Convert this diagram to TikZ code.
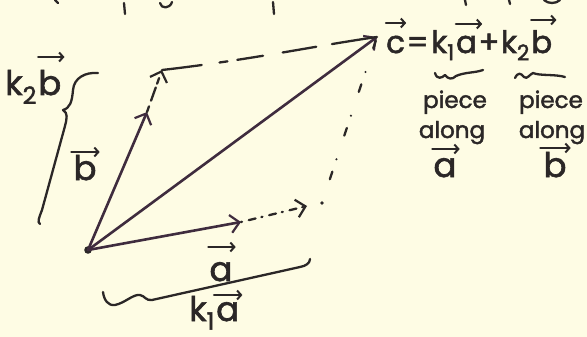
\documentclass[tikz,border=0pt]{standalone}
\usepackage{fontspec}
\setmainfont{Poppins}
\newfontfamily\hw{Poppins}[FakeBold=1.8]
\usetikzlibrary{arrows.meta,calc}
\definecolor{paper}{HTML}{FEFCE4}
\definecolor{ink}{HTML}{2B2727}
\definecolor{vink}{HTML}{3F2C3E}
% arrow over a letter node: node, y (px from top), left and right extension
\newcommand\vecarr[4]{\draw[vecacc] let \p1=(#1.west),\p2=(#1.east) in (\x1+#3,-#2pt) -- (\x2+#4,-#2pt);}
\begin{document}
\begin{tikzpicture}[x=1pt,y=-1pt,
  tip/.style={-{Straight Barb[length=9pt,width=18pt,line width=2.2pt]}},
  vecline/.style={draw=vink,line width=2.6pt,line cap=round,tip},
  vecacc/.style={draw=ink,line width=2.2pt,line cap=round,-{Straight Barb[length=4pt,width=9pt,line width=2pt]}},
  dashline/.style={draw=ink,line width=2.3pt,line cap=round},
  hand/.style={draw=ink,line width=2.3pt,line cap=round,line join=round},
  eqf/.style={inner sep=0pt,text=ink,font=\hw\fontsize{31}{33}\selectfont},
  lbl/.style={inner sep=0pt,text=ink,font=\hw\fontsize{34}{36}\selectfont},
  small/.style={inner sep=0pt,text=ink,font=\hw\fontsize{23}{25}\selectfont}]
\useasboundingbox (0,0) rectangle (587,337);
\fill[paper] (0,0) rectangle (587,337);

% fragments of the cut-off line above
\draw[hand] (55,0) -- (58,3);
\draw[hand] (124,3) -- (125,14);
\draw[hand] (160,3) .. controls (161,9) and (170,9) .. (172,2);
\draw[hand] (273,2) -- (274,14);
\draw[hand] (465,0) -- (466,5);
\draw[hand] (509,0) -- (510,4);
\draw[hand] (544,0) .. controls (548,4) and (556,4) .. (560,0);

% points
\coordinate (O) at (88,250);
\coordinate (bend) at (147,112);
\coordinate (kb) at (162,70);
\coordinate (aend) at (241,222);
\coordinate (ka) at (307,206);
\coordinate (kadot) at (322,203);
\coordinate (c) at (377,37);

\fill[ink] (O) circle (3.8pt);

% vectors
\draw[vecline] (O) -- (bend);
\draw[vecline] (O) -- (aend);
\draw[vecline] (O) -- (c);
% extensions
\draw[dashline,tip,dash pattern=on 6pt off 6pt on 14pt off 4pt] (bend) -- (kb);
\draw[dashline,tip,dash pattern=on 1pt off 7pt on 7pt off 6pt] (aend) -- (ka);
\fill[ink] (kadot) circle (1.8pt);
% parallelogram sides
\draw[dashline,dash pattern=on 40pt off 18pt on 8pt off 10pt on 26pt off 20pt on 34pt off 16pt on 60pt] (kb) .. controls (250,60) and (320,45) .. (c);
\draw[dashline,dash pattern=on 0pt off 25pt on 8pt off 13pt] (kadot) -- (c);

% equation
\node[eqf,anchor=base west] (ec) at (386,53) {c};
\node[eqf,anchor=base west] (eeq) at ([xshift=1pt]ec.base east) {=};
\node[eqf,anchor=base west] (ek1) at ([xshift=2pt]eeq.base east) {k\textsubscript{1}};
\node[eqf,anchor=base west] (ea) at ([xshift=1pt]ek1.base east) {a};
\node[eqf,anchor=base west] (eplus) at ([xshift=1pt]ea.base east) {+};
\node[eqf,anchor=base west] (ek2) at ([xshift=1pt]eplus.base east) {k\textsubscript{2}};
\node[eqf,anchor=base west] (eb) at ([xshift=1pt]ek2.base east) {b};
\vecarr{ec}{23}{0pt}{1pt}
\vecarr{ea}{24}{0pt}{5pt}
\vecarr{eb}{20}{0pt}{4pt}

% wavy underbraces
\draw[hand] (435,73) .. controls (437,80) and (442,78) .. (445,75)
  .. controls (448,79) and (452,80) .. (456,76)
  .. controls (465,72) and (475,73) .. (483,70);
\draw[hand] (515,78) .. controls (518,72) and (521,73) .. (524,77)
  .. controls (527,80) and (530,74) .. (533,73)
  .. controls (540,76) and (555,74) .. (565,77);

% piece along labels
\node[small,anchor=base] (p1) at (455,108) {piece};
\node[small,anchor=base] (al1) at (452,138) {along};
\node[lbl,anchor=base] (va) at (445,177) {a};
\vecarr{va}{149}{-1pt}{3pt}
\node[small,anchor=base] (p2) at (551,108) {piece};
\node[small,anchor=base] (al2) at (552,138) {along};
\node[lbl,anchor=base] (vb) at (555,177) {b};
\vecarr{vb}{148}{-3pt}{4pt}

% b label and brace
\node[lbl,anchor=base] (lb) at (85,180) {b};
\vecarr{lb}{152}{-2pt}{3pt}
\node[lbl,anchor=base west] (lk2) at (5,95) {k\textsubscript{2}};
\node[lbl,anchor=base west] (lkb) at ([xshift=1pt]lk2.base east) {b};
\vecarr{lkb}{57}{0pt}{3pt}
\draw[hand] (98,73) .. controls (85,72) and (74,78) .. (73,90)
  .. controls (72,102) and (70,108) .. (63,110)
  .. controls (68,113) and (67,118) .. (65,126)
  -- (42,210) .. controls (39,218) and (37,222) .. (40,224);

% a label and brace
\node[lbl,anchor=base] (la) at (221,281) {a};
\vecarr{la}{247}{-1pt}{3pt}
\node[lbl,anchor=base west] (lk1) at (189,321) {k\textsubscript{1}};
\node[lbl,anchor=base west] (lka) at ([xshift=1pt]lk1.base east) {a};
\vecarr{lka}{295}{-2pt}{3pt}
\draw[hand] (103,292) .. controls (104,300) and (108,306) .. (115,305)
  .. controls (125,303) and (133,294) .. (140,295)
  .. controls (145,296) and (146,301) .. (152,300)
  -- (300,267) .. controls (306,266) and (310,263) .. (310,259);
\end{tikzpicture}
\end{document}
